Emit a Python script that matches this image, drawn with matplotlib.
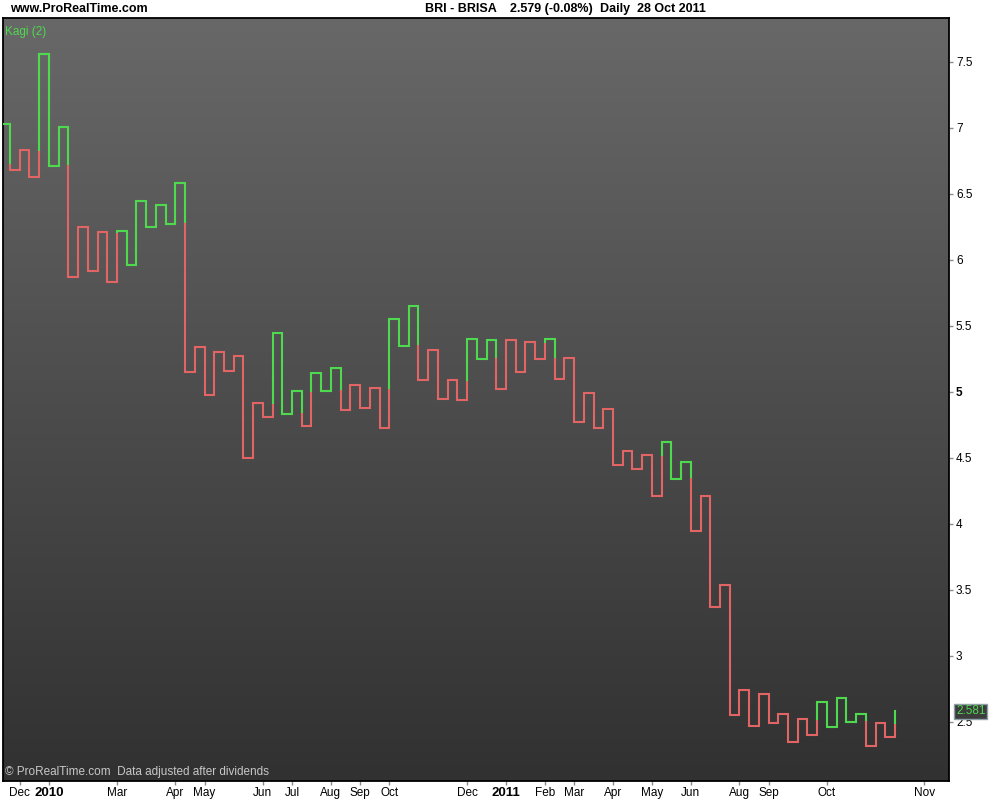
import numpy as np
import matplotlib
matplotlib.use("Agg")
from matplotlib import pyplot as plt
from matplotlib.colors import LinearSegmentedColormap

# Kagi turning points (one per vertical line, left to right)
start_level = 7.03
prior_low = 6.72
kagi_levels = [
    6.68, 6.83, 6.63, 7.56, 6.71, 7.01, 5.87, 6.25, 5.92, 6.21,
    5.83, 6.22, 5.96, 6.45, 6.25, 6.42, 6.27, 6.58, 5.15, 5.34,
    4.98, 5.30, 5.16, 5.27, 4.50, 4.92, 4.81, 5.45, 4.83, 5.01,
    4.74, 5.14, 5.01, 5.18, 4.86, 5.05, 4.88, 5.03, 4.73, 5.55,
    5.35, 5.65, 5.09, 5.32, 4.95, 5.09, 4.94, 5.40, 5.25, 5.39,
    5.02, 5.39, 5.15, 5.38, 5.25, 5.40, 5.10, 5.26, 4.77, 4.99,
    4.73, 4.87, 4.45, 4.55, 4.42, 4.52, 4.21, 4.62, 4.34, 4.47,
    3.95, 4.21, 3.37, 3.54, 2.55, 2.74, 2.47, 2.71, 2.49, 2.56,
    2.35, 2.52, 2.40, 2.65, 2.46, 2.68, 2.50, 2.56, 2.32, 2.49,
    2.39, 2.58,
]

x_tick_pos = [1, 4, 11, 17, 20, 26, 29, 33, 36, 39, 47, 51, 55, 58, 62, 66, 70, 75, 78, 84, 94]
x_tick_labels = ["Dec", "2010", "Mar", "Apr", "May", "Jun", "Jul", "Aug", "Sep", "Oct",
                 "Dec", "2011", "Feb", "Mar", "Apr", "May", "Jun", "Aug", "Sep", "Oct", "Nov"]
year_labels = ["2010", "2011"]

y_ticks = [2.5, 3, 3.5, 4, 4.5, 5, 5.5, 6, 6.5, 7, 7.5]
y_tick_labels = ["2.5", "3", "3.5", "4", "4.5", "5", "5.5", "6", "6.5", "7", "7.5"]

last_price = "2.581"

GREEN = "#4fd94f"
RED = "#e26464"


def kagi_segments(start, levels, low0):
    """Return list of ((x0, y0), (x1, y1), colour) following the yang/yin rule."""
    segs = []
    state = "up"
    last_high = start
    last_low = low0
    prev = start
    segs.append(((-1, start), (0, start), state))
    for i, lvl in enumerate(levels):
        if lvl > prev:
            if state == "down" and lvl > last_high:
                segs.append(((i, prev), (i, last_high), "down"))
                segs.append(((i, last_high), (i, lvl), "up"))
                state = "up"
            else:
                segs.append(((i, prev), (i, lvl), state))
            last_high = lvl
        else:
            if state == "up" and lvl < last_low:
                segs.append(((i, prev), (i, last_low), "up"))
                segs.append(((i, last_low), (i, lvl), "down"))
                state = "down"
            else:
                segs.append(((i, prev), (i, lvl), state))
            last_low = lvl
        if i < len(levels) - 1:
            segs.append(((i, lvl), (i + 1, lvl), state))
        prev = lvl
    return segs


fig = plt.figure(figsize=(10, 8), dpi=100)
fig.patch.set_facecolor("white")
ax = fig.add_axes([0.003, 0.02375, 0.946, 0.95375])

x_min, x_max = -0.72, 96.55
y_min, y_max = 2.053, 7.833

# gradient background, lighter at the top
grad = np.linspace(0, 1, 256).reshape(-1, 1)
cmap = LinearSegmentedColormap.from_list("bg", ["#686868", "#313131"])
ax.imshow(grad, cmap=cmap, aspect="auto", extent=[x_min, x_max, y_min, y_max],
          origin="upper", zorder=0, interpolation="bilinear")

# merge consecutive same-colour segments into polylines
segs = kagi_segments(start_level, kagi_levels, prior_low)
runs = []
for p0, p1, st in segs:
    if runs and runs[-1][1] == st and runs[-1][0][-1] == p0:
        runs[-1][0].append(p1)
    else:
        runs.append(([p0, p1], st))
for pts, st in runs:
    xs = [p[0] for p in pts]
    ys = [p[1] for p in pts]
    ax.plot(xs, ys, color=GREEN if st == "up" else RED, lw=1.5,
            solid_joinstyle="miter", solid_capstyle="projecting", zorder=3)

ax.set_xlim(x_min, x_max)
ax.set_ylim(y_min, y_max)

ax.yaxis.tick_right()
ax.set_yticks(y_ticks)
ax.set_yticklabels(y_tick_labels)
ax.set_xticks(x_tick_pos)
ax.set_xticklabels(x_tick_labels)
ax.tick_params(axis="both", direction="out", length=3, width=1, color="#8c8c8c",
               labelsize=8.5, labelcolor="black")
ax.tick_params(axis="x", pad=1)
ax.tick_params(axis="y", pad=2)
for lbl in ax.get_yticklabels():
    lbl.set_fontfamily("Liberation Sans")
    if lbl.get_text() == "5":
        lbl.set_fontweight("bold")
for lbl in ax.get_xticklabels():
    lbl.set_fontfamily("Liberation Sans")
    if lbl.get_text() in year_labels:
        lbl.set_fontweight("bold")
        lbl.set_fontsize(9.5)

for sp in ax.spines.values():
    sp.set_color("black")
    sp.set_linewidth(1.3)

# header texts
hdr = dict(fontsize=9, fontweight="bold", family="Liberation Sans", va="center", color="black")
fig.text(10 / 1000, 1 - 9 / 800, "www.ProRealTime.com", ha="left", **hdr)
fig.text(497 / 1000, 1 - 9 / 800, "BRI - BRISA", ha="right", **hdr)
fig.text(510 / 1000, 1 - 9 / 800, "2.579 (-0.08%)", ha="left", **hdr)
fig.text(600 / 1000, 1 - 9 / 800, "Daily  28 Oct 2011", ha="left", **hdr)

ax.text(0.002, 0.99, "Kagi (2)", transform=ax.transAxes, ha="left", va="top",
        color=GREEN, fontsize=8.5, family="Liberation Sans")
ax.text(0.002, 0.004, "\u00a9 ProRealTime.com  Data adjusted after dividends",
        transform=ax.transAxes, ha="left", va="bottom", color="#c8c8c8",
        fontsize=8.5, family="Liberation Sans")

# last price box on right axis
fig.text(956 / 1000, 1 - 711.5 / 800, last_price, ha="left", va="center",
         color=GREEN, fontsize=8.5, family="Liberation Sans",
         bbox=dict(boxstyle="square,pad=0.15", facecolor="#3c3c3c", edgecolor="#8fa0a8", lw=1))

fig.savefig("out.png", dpi=100)
